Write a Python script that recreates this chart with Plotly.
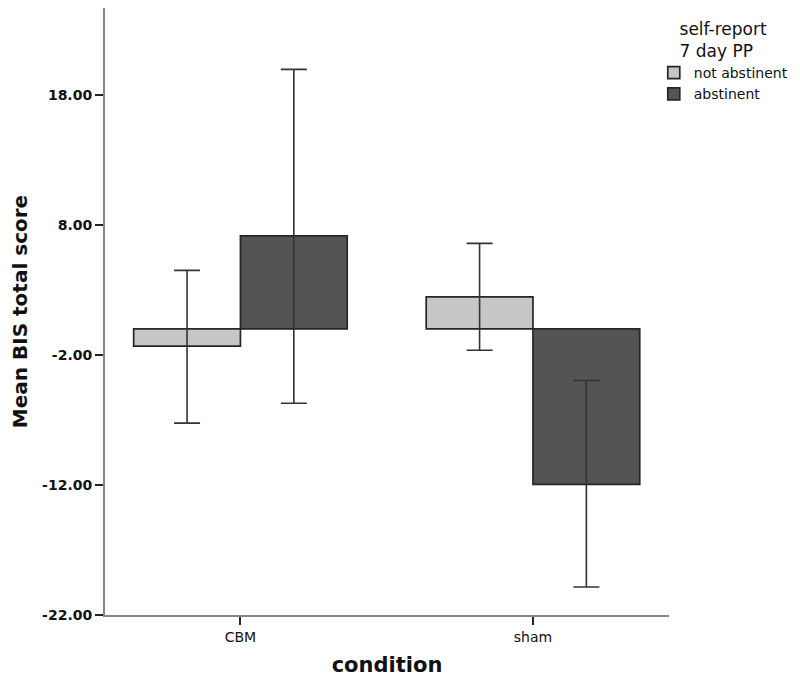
import plotly.graph_objects as go

categories = ["CBM", "sham"]
groups = ["not abstinent", "abstinent"]
means_not_abstinent = [-1.33, 2.46]
means_abstinent = [7.15, -11.95]
upper_not_abstinent = [4.5, 6.57]
lower_not_abstinent = [-7.25, -1.64]
upper_abstinent = [19.95, -3.97]
lower_abstinent = [-5.72, -19.85]
y_ticks = [-22, -12, -2, 8, 18]
y_tick_labels = ["-22.00", "-12.00", "-2.00", "8.00", "18.00"]

colors = ["#c6c6c6", "#545454"]
font_family = "DejaVu Sans"
ink = "#111111"

fig = go.Figure()
series = [
    (means_not_abstinent, upper_not_abstinent, lower_not_abstinent),
    (means_abstinent, upper_abstinent, lower_abstinent),
]
for name, color, (m, up, lo) in zip(groups, colors, series):
    fig.add_trace(go.Bar(
        x=categories, y=m, name=name,
        marker=dict(color=color, line=dict(color="#262626", width=1.7)),
        error_y=dict(type="data", symmetric=False,
                     array=[u - v for u, v in zip(up, m)],
                     arrayminus=[v - l for v, l in zip(m, lo)],
                     color="#333333", thickness=1.6, width=13),
    ))

# page has an 8px body margin; figure is sized to compensate
fig.update_layout(
    width=792, height=674,
    barmode="group", bargap=0.27, bargroupgap=0,
    plot_bgcolor="white", paper_bgcolor="white",
    margin=dict(l=97, r=131, t=0, b=67, autoexpand=False),
    font=dict(family=font_family, color=ink),
    legend=dict(
        x=0.973, xanchor="left", y=0.992, yanchor="top",
        title=dict(text="self-report<br>7 day PP", side="top center",
                   font=dict(size=17, family=font_family, color=ink)),
        font=dict(size=14, family=font_family, color=ink),
        itemwidth=30, tracegroupgap=0,
    ),
    showlegend=True,
)
fig.update_xaxes(
    range=[-0.463, 1.465],
    showline=True, linecolor="#858585", linewidth=2,
    ticks="outside", ticklen=8, tickcolor="#222222", tickwidth=2,
    tickfont=dict(size=14, family=font_family, color=ink),
    showgrid=False, zeroline=False,
    title=dict(text="<b>condition</b>", font=dict(size=21, family=font_family, color=ink), standoff=14),
)
fig.update_yaxes(
    range=[-22, 24.67],
    tickvals=y_ticks, ticktext=y_tick_labels,
    showline=True, linecolor="#858585", linewidth=2,
    ticks="outside", ticklen=8, tickcolor="#222222", tickwidth=2,
    tickfont=dict(size=14, family=font_family, color=ink, weight="bold"),
    showgrid=False, zeroline=False,
    title=dict(text="<b>Mean BIS total score</b>", font=dict(size=20, family=font_family, color=ink), standoff=18),
)

fig.write_html("out.html")
